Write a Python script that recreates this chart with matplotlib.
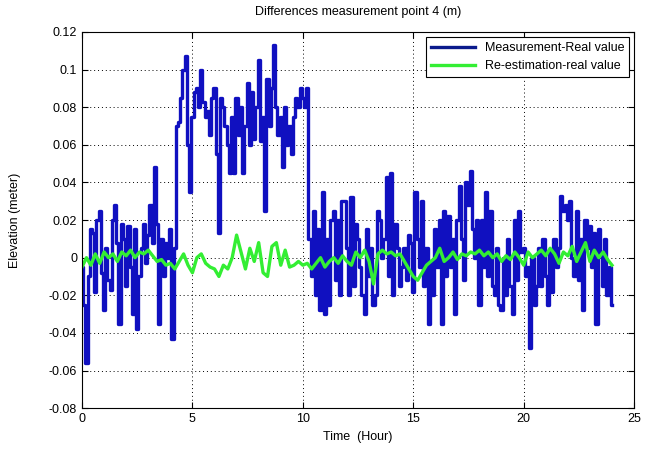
import numpy as np
import matplotlib
matplotlib.use('Agg')
import matplotlib.pyplot as plt
from matplotlib.ticker import FuncFormatter

meas_diff = [
    -0.005, -0.025, -0.056, -0.010, 0.015, 0.013, -0.018, 0.020, 0.025, -0.008,
    -0.028, 0.005, -0.012, -0.017, 0.020, 0.028, 0.008, -0.035, 0.018, 0.010,
    -0.015, 0.017, -0.005, -0.030, 0.015, -0.038, -0.010, 0.005, 0.018, -0.003,
    0.012, 0.028, 0.008, 0.048, 0.018, -0.035, 0.010, -0.010, 0.008, 0.000,
    0.015, -0.043, 0.005, 0.070, 0.072, 0.085, 0.100, 0.107, 0.060, 0.035,
    0.075, 0.088, 0.090, 0.080, 0.100, 0.083, 0.075, 0.078, 0.065, 0.085,
    0.090, 0.055, 0.013, 0.085, 0.080, 0.070, 0.060, 0.045, 0.075, 0.045,
    0.085, 0.065, 0.080, 0.045, 0.070, 0.093, 0.060, 0.088, 0.063, 0.080,
    0.105, 0.062, 0.075, 0.025, 0.095, 0.070, 0.090, 0.113, 0.080, 0.065,
    0.075, 0.048, 0.080, 0.060, 0.070, 0.055, 0.075, 0.085, 0.080, 0.090,
    0.085, 0.080, 0.090, 0.010, -0.010, 0.025, -0.020, 0.015, -0.028, 0.035,
    -0.030, 0.010, -0.025, 0.020, 0.025, -0.012, 0.020, -0.020, 0.030, 0.030,
    0.005, -0.020, 0.032, -0.015, 0.018, 0.010, -0.005, -0.020, -0.030, 0.015,
    -0.010, 0.005, -0.025, -0.020, 0.025, 0.020, 0.000, 0.010, 0.043, -0.010,
    0.045, -0.020, 0.018, 0.005, -0.015, -0.005, 0.005, -0.012, 0.012, 0.008,
    -0.018, 0.035, 0.010, -0.005, 0.030, -0.015, 0.005, -0.035, -0.002, -0.020,
    0.015, -0.005, 0.020, -0.035, 0.025, -0.010, 0.022, -0.005, 0.010, -0.030,
    0.020, 0.038, 0.010, -0.012, 0.040, 0.028, 0.046, 0.015, 0.000, 0.020,
    -0.025, 0.020, -0.005, 0.035, -0.010, 0.025, -0.015, -0.020, 0.005, -0.025,
    -0.028, 0.000, -0.020, 0.010, -0.015, -0.030, 0.020, -0.012, 0.025, 0.003,
    0.005, -0.010, -0.005, -0.048, 0.000, -0.025, -0.015, 0.005, -0.015, 0.010,
    -0.010, -0.025, 0.003, -0.018, 0.010, -0.005, 0.005, 0.033, 0.025, 0.028,
    0.020, 0.030, 0.000, -0.010, 0.025, -0.012, 0.010, -0.028, 0.020, 0.005,
    0.017, -0.005, 0.013, -0.035, 0.015, 0.003, -0.015, 0.010, -0.020, -0.005,
    -0.025,
]

# Re-estimation - real value, sampled every 0.2 hour
reest_diff = [
    -0.005, 0.000, -0.004, 0.002, -0.003, 0.003, 0.000, 0.002, -0.002, 0.003,
    0.001, 0.004, 0.000, 0.003, 0.002, 0.004, 0.001, -0.002, -0.001, -0.004,
    -0.003, -0.006, -0.002, 0.002, -0.004, -0.008, 0.000, 0.002, -0.003, -0.005,
    -0.006, -0.010, -0.004, -0.006, 0.000, 0.012, 0.003, -0.006, 0.005, -0.002,
    0.008, -0.008, -0.010, 0.006, 0.008, -0.004, 0.004, -0.005, -0.004, -0.002,
    -0.004, -0.003, -0.006, -0.003, 0.000, -0.005, -0.002, 0.000, -0.003, 0.001,
    -0.002, -0.004, 0.003, 0.000, 0.004, -0.002, -0.014, 0.002, 0.004, 0.002,
    0.003, 0.001, 0.002, -0.002, -0.006, -0.010, -0.012, -0.008, -0.004, -0.002,
    0.000, 0.005, -0.002, 0.000, 0.003, -0.001, 0.002, 0.001, 0.003, 0.002,
    0.004, 0.001, 0.003, 0.000, 0.002, -0.002, 0.001, -0.001, 0.003, 0.000,
    -0.004, 0.003, 0.000, 0.002, 0.004, 0.001, 0.005, 0.002, -0.003, 0.003,
    0.001, 0.006, -0.002, 0.003, 0.008, -0.002, 0.004, 0.000, 0.003, -0.001,
    -0.004,
]

t_meas = np.arange(len(meas_diff)) * 0.1
t_reest = np.arange(len(reest_diff)) * 0.2

plt.rcParams['font.family'] = ['Liberation Sans', 'DejaVu Sans']

fig = plt.figure(figsize=(6.51, 4.5), dpi=100)
ax = fig.add_axes([0.126, 0.093, 0.848, 0.836])

ax.plot(t_meas, meas_diff, color='#1010c0', linewidth=2.4, drawstyle='steps-mid',
        label='Measurement-Real value')
ax.plot(t_reest, reest_diff, color='#33ee33', linewidth=2.4, label='Re-estimation-real value')

ax.set_xlim(0, 25)
ax.set_ylim(-0.08, 0.12)
ax.set_xticks(np.arange(0, 26, 5))
ax.set_yticks(np.arange(-0.08, 0.121, 0.02))
ax.yaxis.set_major_formatter(FuncFormatter(lambda v, p: f'{round(v, 3):g}' if abs(v) > 1e-9 else '0'))

ax.grid(True, color='black', linestyle=(0, (1, 3)), linewidth=0.7)
ax.tick_params(direction='in', top=True, right=True, labelsize=9, length=4)
for s in ax.spines.values():
    s.set_linewidth(0.8)

ax.set_title('Differences measurement point 4 (m)', fontsize=9, pad=12)
ax.set_xlabel('Time  (Hour)', fontsize=9, labelpad=4)
ax.set_ylabel('Elevation (meter)', fontsize=9, labelpad=20)

leg = ax.legend(loc='upper right', fontsize=9, fancybox=False, framealpha=1,
                edgecolor='black', handlelength=3.5, borderaxespad=0.4)
leg.get_frame().set_linewidth(0.8)
leg.get_lines()[0].set_color('#0a1a8c')

fig.savefig('out.png', dpi=100)
